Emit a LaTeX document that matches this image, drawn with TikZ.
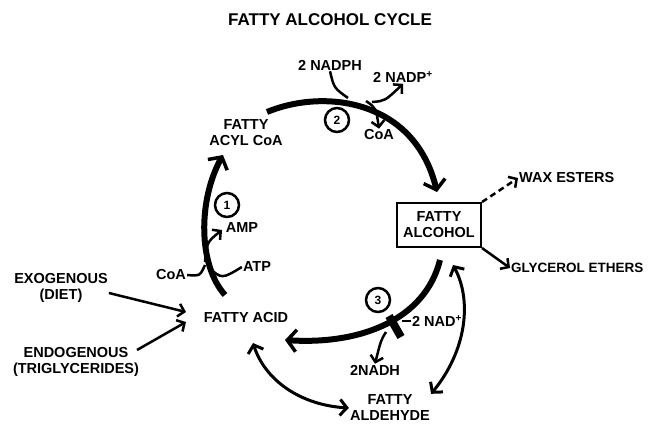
\documentclass[tikz,border=0pt]{standalone}
\usepackage{fontspec}
\setmainfont{Liberation Sans}
\usetikzlibrary{arrows.meta}

\begin{document}
\begin{tikzpicture}[x=1pt, y=-1pt,
    lbl/.style={font=\fontsize{14.5}{16}\selectfont\bfseries, inner sep=1pt, align=center},
    cyc/.style={line width=6pt, -{Straight Barb[length=9pt,width=22pt,line width=3.5pt]}},
    side/.style={line width=2.5pt, -{Straight Barb[length=6pt,width=13pt,line width=2.5pt]}},
    twoway/.style={line width=3pt, {Straight Barb[length=7pt,width=16pt,line width=3pt]}-{Straight Barb[length=7pt,width=16pt,line width=3pt]}},
    num/.style={draw, circle, line width=2.5pt, minimum size=24pt, inner sep=0pt, font=\fontsize{12}{12}\selectfont\bfseries}]
    \useasboundingbox (0,0) rectangle (650,424);
    \node[lbl, font=\fontsize{17}{18}\selectfont\bfseries] (title) at (330,20) {FATTY ALCOHOL CYCLE};
    % metabolites
    \node[lbl] (acyl) at (246,133) {FATTY\\ACYL CoA};
    \node[lbl] (acid) at (246,317) {FATTY ACID};
    \node[lbl, draw, line width=2pt, minimum width=84pt, minimum height=44pt] (alcohol) at (439,225) {FATTY\\ALCOHOL};
    \node[lbl] (aldehyde) at (390,408) {FATTY\\ALDEHYDE};
    \node[lbl] (exo) at (61,288) {EXOGENOUS\\(DIET)};
    \node[lbl] (endo) at (76,362) {ENDOGENOUS\\(TRIGLYCERIDES)};
    \node[lbl, anchor=west] (wax) at (518,178) {WAX ESTERS};
    \node[lbl, anchor=west, font=\fontsize{13.5}{16}\selectfont\bfseries] (glyc) at (510,268) {GLYCEROL ETHERS};
    % cofactors
    \node[lbl] (nadph) at (330,65) {2 NADPH};
    \node[lbl] (nadp) at (403,77) {2 NADP\textsuperscript{+}};
    \node[lbl] (coaB) at (379,135) {CoA};
    \node[lbl] (amp) at (242,228) {AMP};
    \node[lbl] (atp) at (257,267) {ATP};
    \node[lbl] (coaA) at (171,275) {CoA};
    \node[lbl] (nad) at (437,321) {2 NAD\textsuperscript{+}};
    \node[lbl] (nadh) at (375,370) {2NADH};
    % steps
    \node[num] (s1) at (227,205) {1};
    \node[num] (s2) at (337,120) {2};
    \node[num] (s3) at (378,300) {3};
    % cycle
    \coordinate (a1) at (225,295);
    \coordinate (a2) at (223,155);
    \coordinate (b1) at (267,112);
    \coordinate (b2) at (437,192);
    \coordinate (c1) at (440,260);
    \coordinate (c2) at (285,340);
    \draw[cyc] (a1) .. controls (198,265) and (198,200) .. (a2);
    \draw[cyc] (b1) .. controls (325,88) and (415,100) .. (b2);
    \draw[cyc] (c1) .. controls (425,320) and (360,345) .. (c2);
    \draw[line width=8pt] (389,316) -- (401,337);
    % step 1
    \draw[side] (205,262) .. controls (207,242) .. (222,230);
    \draw[line width=2.5pt] (atp.west) .. controls (222,279) .. (209,268);
    \draw[line width=2.5pt] (coaA.east) .. controls (200,276) .. (205,265);
    % step 2
    \draw[line width=2.5pt] (nadph.south) .. controls (334,88) .. (348,98);
    \draw[side] (372,102) .. controls (385,101) .. (nadp.south);
    \draw[side] (366,101) .. controls (376,108) .. (coaB.north);
    % step 3
    \draw[line width=2.5pt] (nad.west) -- (402,321);
    \draw[side] (386,332) .. controls (381,340) .. (nadh.north);
    % inputs and outputs
    \coordinate (in1) at (186,312);
    \coordinate (in2) at (186,322);
    \draw[side] (exo.east |- 0,293) -- (in1);
    \draw[side] (137,350) -- (in2);
    \draw[side, dash pattern=on 6pt off 4pt] (alcohol.north east) -- (wax.west);
    \draw[side] (alcohol.south east) -- (glyc.west);
    \draw[twoway] (453,265) .. controls (472,300) and (467,350) .. (aldehyde.north east);
    \draw[twoway] (253,343) .. controls (265,380) and (300,405) .. (aldehyde.west);
\end{tikzpicture}
\end{document}
